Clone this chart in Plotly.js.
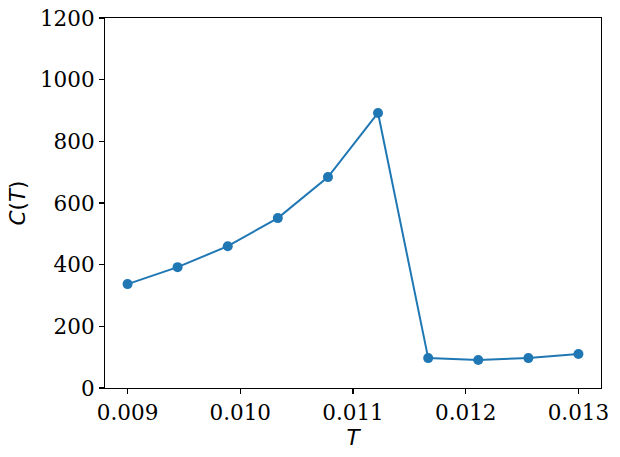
<!DOCTYPE html>
<html><head><meta charset="utf-8">
<script src="https://cdn.plot.ly/plotly-3.0.1.min.js"></script>
<style>html,body{margin:0;padding:0;background:#fff}</style>
</head><body>
<div id="chart" style="width:620px;height:457px"></div>
<script>
const temperatures = [0.009, 0.009444, 0.009889, 0.010333, 0.010778, 0.011222, 0.011667, 0.012111, 0.012556, 0.013];
const heatCapacity = [337, 392, 460, 551, 684, 892, 97, 91, 97, 110];
const xTickVals = [0.009, 0.010, 0.011, 0.012, 0.013];
const xTickText = ["0.009", "0.010", "0.011", "0.012", "0.013"];
const yTickVals = [0, 200, 400, 600, 800, 1000, 1200];

const tickFont = {family: "DejaVu Serif", size: 21.5, color: "#000"};
const titleFont = {family: "DejaVu Sans", size: 21.5, color: "#000"};

Plotly.newPlot("chart", [{
  x: temperatures, y: heatCapacity, type: "scatter", mode: "lines+markers",
  line: {color: "#1f77b4", width: 2}, marker: {color: "#1f77b4", size: 10}
}], {
  width: 620, height: 457,
  margin: {l: 105, r: 19, t: 18, b: 69},
  paper_bgcolor: "#fff", plot_bgcolor: "#fff",
  showlegend: false,
  xaxis: {
    range: [0.0088, 0.0132], tickvals: xTickVals, ticktext: xTickText,
    ticks: "outside", ticklen: 5, tickwidth: 1.1, tickcolor: "#000",
    showline: true, linecolor: "#000", linewidth: 1.1, mirror: true,
    showgrid: false, zeroline: false, tickfont: tickFont,
    title: {text: "<i>T</i>", font: titleFont, standoff: 2}
  },
  yaxis: {
    range: [0, 1200], tickvals: yTickVals,
    ticks: "outside", ticklen: 5, tickwidth: 1.1, tickcolor: "#000",
    showline: true, linecolor: "#000", linewidth: 1.1, mirror: true,
    showgrid: false, zeroline: false, tickfont: tickFont,
    title: {text: "<i>C</i>(<i>T</i>)", font: titleFont, standoff: 8}
  }
}, {displayModeBar: false, staticPlot: true});
</script>
</body></html>
